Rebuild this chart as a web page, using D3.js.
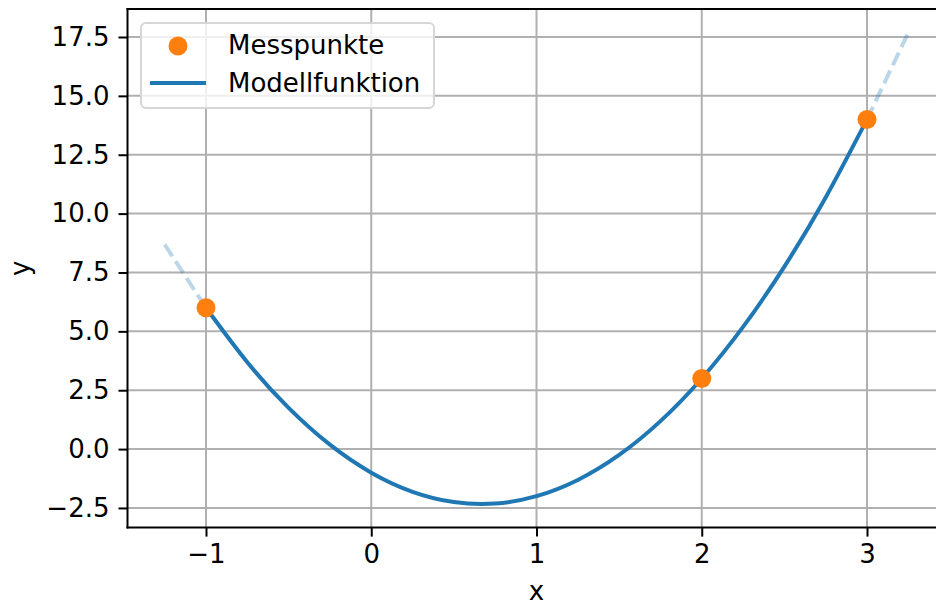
<!DOCTYPE html>
<html>
<head>
<meta charset="utf-8">
<script src="https://cdn.jsdelivr.net/npm/d3@7"></script>
<style>
  html, body { margin: 0; padding: 0; background: #fff; }
  svg { display: block; font-family: "DejaVu Sans", sans-serif; }
</style>
</head>
<body>
<svg id="chart" width="936" height="605"></svg>
<script>
// Measured points
const pointX = [-1, 2, 3];
const pointY = [6, 3, 14];
// Model function samples
const curveX = [-1.25, -1, -0.75, -0.5, -0.25, 0, 0.25, 0.5, 0.75, 1, 1.25, 1.5, 1.75, 2, 2.25, 2.5, 2.75, 3, 3.25];
const curveY = [8.6875, 6, 3.6875, 1.75, 0.1875, -1, -1.8125, -2.25, -2.3125, -2, -1.3125, -0.25, 1.1875, 3, 5.1875, 7.75, 10.6875, 14, 17.6875];
// Ticks
const xTicks = [-1, 0, 1, 2, 3];
const yTicks = [-2.5, 0, 2.5, 5, 7.5, 10, 12.5, 15, 17.5];
const legendLabels = ["Messpunkte", "Modellfunktion"];

(function () {
const svg = d3.select("#chart");
const fs = 26;

const x = d3.scaleLinear().domain([-1.475, 3.475]).range([127.5, 945.5]);
const y = d3.scaleLinear().domain([-3.334, 18.689]).range([527.6, 9]);
const pL = x.range()[0], pR = x.range()[1], pT = y.range()[1], pB = y.range()[0];

const fmtY = v => (v < 0 ? "\u2212" : "") + Math.abs(v).toFixed(1);
const fmtX = v => (v < 0 ? "\u2212" : "") + Math.abs(v);

// grid
const g = svg.append("g");
g.selectAll("line.gx").data(xTicks).join("line").attr("class", "gx")
  .attr("x1", d => x(d)).attr("x2", d => x(d)).attr("y1", pT).attr("y2", pB)
  .attr("stroke", "#b0b0b0").attr("stroke-width", 2);
g.selectAll("line.gy").data(yTicks).join("line").attr("class", "gy")
  .attr("y1", d => y(d)).attr("y2", d => y(d)).attr("x1", pL).attr("x2", pR)
  .attr("stroke", "#b0b0b0").attr("stroke-width", 2);

// curve
const pts = curveX.map((v, i) => [v, curveY[i]]);
const line = d3.line().x(d => x(d[0])).y(d => y(d[1])).curve(d3.curveNatural);
const leftSeg = pts.filter(d => d[0] <= -1);
const midSeg = pts.filter(d => d[0] >= -1 && d[0] <= 3);
const rightSeg = pts.filter(d => d[0] >= 3);
[leftSeg, rightSeg].forEach(seg => {
  svg.append("path").attr("d", line(seg)).attr("fill", "none")
    .attr("stroke", "#1f77b4").attr("stroke-opacity", 0.3)
    .attr("stroke-width", 4).attr("stroke-dasharray", "14,6");
});
svg.append("path").attr("d", line(midSeg)).attr("fill", "none")
  .attr("stroke", "#1f77b4").attr("stroke-width", 4).attr("stroke-linecap", "square");

// points
svg.selectAll("circle.pt").data(pointX.map((v, i) => [v, pointY[i]])).join("circle")
  .attr("class", "pt")
  .attr("cx", d => x(d[0])).attr("cy", d => y(d[1])).attr("r", 9.5).attr("fill", "#ff7f0e");

// spines
svg.append("line").attr("x1", pL).attr("x2", pL).attr("y1", pT).attr("y2", pB)
  .attr("stroke", "#000").attr("stroke-width", 2).attr("stroke-linecap", "square");
svg.append("line").attr("x1", pL).attr("x2", pR).attr("y1", pB).attr("y2", pB)
  .attr("stroke", "#000").attr("stroke-width", 2).attr("stroke-linecap", "square");
svg.append("line").attr("x1", pL).attr("x2", pR).attr("y1", pT).attr("y2", pT)
  .attr("stroke", "#000").attr("stroke-width", 2).attr("stroke-linecap", "square");

// axes
const xAxis = d3.axisBottom(x).tickValues(xTicks).tickFormat(fmtX).tickSize(9).tickPadding(8);
const yAxis = d3.axisLeft(y).tickValues(yTicks).tickFormat(fmtY).tickSize(9).tickPadding(9);
const gx = svg.append("g").attr("transform", `translate(0,${pB})`).call(xAxis);
const gy = svg.append("g").attr("transform", `translate(${pL},0)`).call(yAxis);
[gx, gy].forEach(a => {
  a.select(".domain").remove();
  a.selectAll(".tick line").attr("stroke", "#000").attr("stroke-width", 2);
  a.selectAll(".tick text").attr("fill", "#000").style("font-size", fs + "px")
    .style("font-family", "DejaVu Sans");
});

// axis labels
svg.append("text").attr("x", x(1)).attr("y", 600).attr("text-anchor", "middle")
  .style("font-size", fs + "px").text("x");
svg.append("text").attr("transform", `translate(29,${(pT + pB) / 2}) rotate(-90)`)
  .attr("text-anchor", "middle").style("font-size", fs + "px").text("y");

// legend
const lg = svg.append("g");
lg.append("rect").attr("x", 141).attr("y", 23).attr("width", 293).attr("height", 85)
  .attr("rx", 5).attr("fill", "#fff").attr("fill-opacity", 0.8)
  .attr("stroke", "#d6d6d6").attr("stroke-width", 2);
lg.append("circle").attr("cx", 178).attr("cy", 46).attr("r", 9.5).attr("fill", "#ff7f0e");
lg.append("line").attr("x1", 150).attr("x2", 206).attr("y1", 83).attr("y2", 83)
  .attr("stroke", "#1f77b4").attr("stroke-width", 4);
lg.selectAll("text.lt").data(legendLabels).join("text").attr("class", "lt")
  .attr("x", 228).attr("y", (d, i) => 54 + i * 38).style("font-size", fs + "px").text(d => d);
})();
</script>
</body>
</html>
